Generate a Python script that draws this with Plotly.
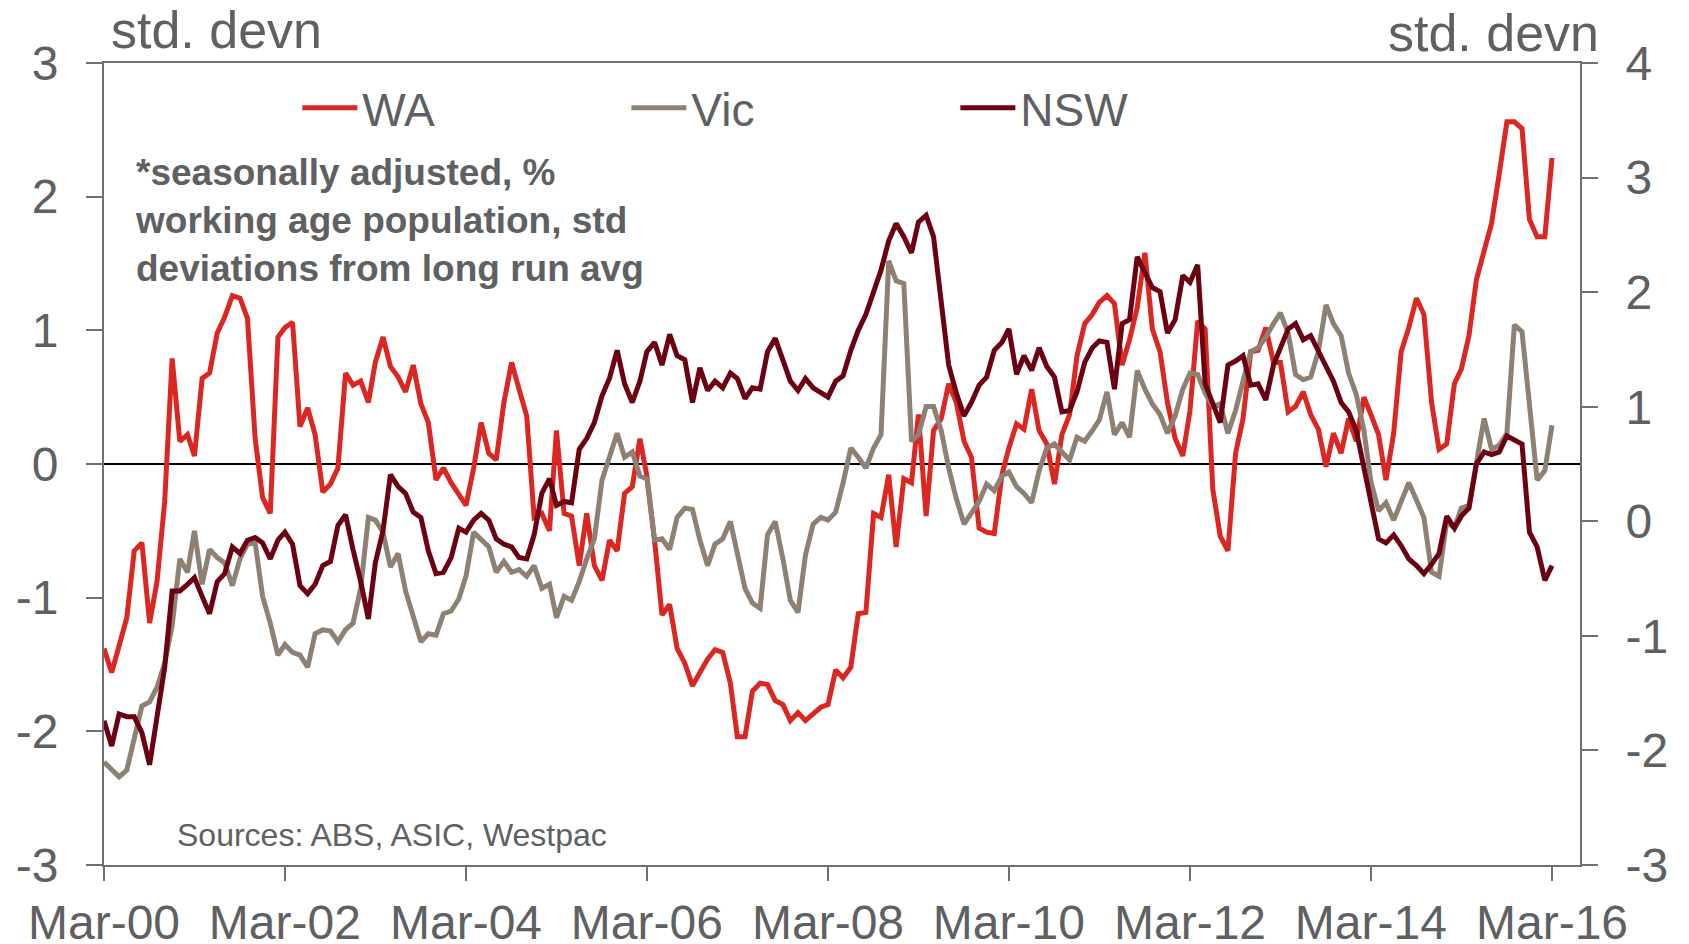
import pandas as pd
import plotly.graph_objects as go

# monthly, Mar-00 .. Mar-16, std deviations from long run avg
months = pd.date_range("2000-03-01", periods=193, freq="MS")

wa = [
    -1.38, -1.56, -1.36, -1.15, -0.65, -0.59, -1.19, -0.88, -0.28, 0.79, 0.17, 0.22, 0.06, 0.64, 0.68, 0.98, 1.10,
    1.26, 1.24, 1.09, 0.19, -0.25, -0.37, 0.95, 1.02, 1.06, 0.28, 0.42, 0.22, -0.21, -0.15, -0.03, 0.68, 0.59, 0.62,
    0.46, 0.76, 0.95, 0.73, 0.65, 0.54, 0.74, 0.45, 0.31, -0.12, -0.03, -0.14, -0.23, -0.31, -0.03, 0.31, 0.08, 0.03,
    0.46, 0.76, 0.56, 0.36, -0.40, -0.37, -0.50, 0.25, -0.37, -0.39, -0.76, -0.37, -0.76, -0.87, -0.57, -0.65,
    -0.22, -0.17, 0.19, -0.09, -0.57, -1.13, -1.05, -1.38, -1.49, -1.66, -1.56, -1.46, -1.39, -1.41, -1.64, -2.04,
    -2.04, -1.70, -1.64, -1.65, -1.77, -1.80, -1.92, -1.86, -1.92, -1.87, -1.82, -1.80, -1.54, -1.60, -1.52, -1.12,
    -1.11, -0.37, -0.40,
    -0.08, -0.62, -0.11, -0.14, 0.37, -0.39, 0.25, 0.34, 0.60, 0.46, 0.17, 0.05, -0.48, -0.51, -0.52, -0.08, 0.12,
    0.30, 0.26, 0.56, 0.25, 0.15, -0.15, 0.22, 0.37, 0.81, 1.05, 1.12, 1.21, 1.26, 1.20, 0.74, 0.93, 1.17,
    1.58, 1.01, 0.84, 0.46, 0.19, 0.06, 0.40, 1.07, 1.01, -0.19, -0.54, -0.65, 0.08, 0.34, 0.84, 0.85, 1.02, 0.76,
    0.76, 0.39, 0.43, 0.54, 0.37, 0.26, -0.02, 0.23,
    0.08, 0.34, 0.17, 0.50, 0.37, 0.22, -0.12, 0.23, 0.84, 1.02, 1.24, 1.12, 0.46, 0.11, 0.15, 0.60, 0.71, 0.96,
    1.38, 1.60, 1.80, 2.17, 2.56, 2.56, 2.51, 1.83, 1.70, 1.70, 2.29,
]

vic = [
    -2.23, -2.28, -2.34, -2.29, -2.05, -1.81, -1.78, -1.67, -1.49, -1.21, -0.71, -0.81, -0.50, -0.90, -0.64, -0.70,
    -0.74, -0.91, -0.71, -0.60, -0.59, -0.99, -1.19, -1.43, -1.35, -1.41, -1.43, -1.52, -1.27, -1.24, -1.25, -1.33,
    -1.24, -1.19, -0.93,
    -0.40, -0.42, -0.51, -0.77, -0.67, -0.95, -1.13, -1.33, -1.27, -1.28, -1.12, -1.10, -1.01, -0.84, -0.51, -0.57,
    -0.62, -0.81, -0.73, -0.81, -0.79, -0.84, -0.76, -0.93, -0.90, -1.15, -0.99, -1.02, -0.88, -0.71, -0.56, -0.12,
    0.05, 0.23,
    0.05, 0.09, -0.09, -0.11, -0.57, -0.56, -0.64, -0.40, -0.33, -0.34, -0.57, -0.76, -0.60, -0.56, -0.43, -0.68,
    -0.93, -1.04, -1.08, -0.53, -0.43, -0.71, -1.02, -1.11, -0.68, -0.45, -0.40, -0.42, -0.36, -0.14, 0.12, 0.05,
    -0.03, 0.12, 0.22,
    1.52, 1.37, 1.35, 0.17, 0.22, 0.43, 0.43, 0.25, -0.03, -0.26, -0.45, -0.37, -0.28, -0.15, -0.20, -0.09, -0.06,
    -0.17, -0.22, -0.29, -0.05, 0.12, 0.15, 0.09, 0.03, 0.20, 0.17, 0.25, 0.33, 0.54, 0.22, 0.31, 0.20, 0.70,
    0.56, 0.45, 0.37, 0.23, 0.36, 0.56, 0.68, 0.67, 0.53, 0.43, 0.45, 0.23, 0.40, 0.62, 0.84, 0.87, 0.95, 1.05,
    1.13, 0.98, 0.67, 0.63, 0.65, 0.84, 1.19, 1.05,
    0.96, 0.68, 0.52, 0.25, -0.13, -0.35, -0.29, -0.42, -0.28, -0.14, -0.27, -0.40, -0.81, -0.84, -0.43, -0.48,
    -0.33, -0.31, 0.01, 0.34, 0.11, 0.14, 0.23, 1.04, 0.99, 0.43, -0.12, -0.05, 0.29,
]

nsw = [
    -1.92, -2.11, -1.87, -1.89, -1.89, -2.01, -2.25, -1.89, -1.52, -0.95, -0.95, -0.90, -0.85, -0.99, -1.12, -0.88,
    -0.82, -0.62, -0.67, -0.57, -0.55, -0.59, -0.71, -0.57, -0.51, -0.60, -0.91, -0.97, -0.90, -0.76, -0.73, -0.46,
    -0.38, -0.64, -0.88,
    -1.16, -0.74, -0.50, -0.08, -0.17, -0.22, -0.36, -0.40, -0.65, -0.82, -0.81, -0.70, -0.48, -0.51, -0.42, -0.37,
    -0.42, -0.56, -0.60, -0.62, -0.70, -0.71, -0.53, -0.22, -0.11, -0.31, -0.28, -0.29, 0.11, 0.19, 0.31, 0.51,
    0.64, 0.85,
    0.60, 0.46, 0.62, 0.84, 0.91, 0.74, 0.97, 0.81, 0.78, 0.46, 0.72, 0.55, 0.62, 0.57, 0.68, 0.64, 0.49, 0.57,
    0.56, 0.84, 0.94, 0.79, 0.62, 0.55, 0.64, 0.57, 0.53, 0.50, 0.62, 0.66, 0.85, 1.00, 1.12, 1.28, 1.45,
    1.67, 1.80, 1.70, 1.58, 1.81, 1.86, 1.70, 1.18, 0.74, 0.53, 0.36, 0.46, 0.59, 0.65, 0.85, 0.91, 1.01, 0.67,
    0.81, 0.70, 0.87, 0.73, 0.65, 0.39, 0.40, 0.54, 0.76, 0.87, 0.92, 0.91, 0.56, 1.05, 1.08, 1.55,
    1.44, 1.32, 1.29, 0.98, 1.08, 1.41, 1.36, 1.49, 0.60, 0.46, 0.31, 0.74, 0.77, 0.81, 0.59, 0.60, 0.48, 0.74,
    0.88, 1.01, 1.05, 0.93, 0.96, 0.84, 0.74, 0.62,
    0.46, 0.39, 0.25, -0.03, -0.28, -0.56, -0.59, -0.53, -0.61, -0.71, -0.76, -0.82, -0.75, -0.67, -0.39, -0.48,
    -0.39, -0.33, 0.00, 0.09, 0.07, 0.09, 0.21, 0.18, 0.15, -0.51, -0.62, -0.87, -0.76,
]

x_ticks = pd.date_range("2000-03-01", "2016-03-01", freq="24MS")
left_ticks = [-3, -2, -1, 0, 1, 2, 3]
right_ticks = [-3, -2, -1, 0, 1, 2, 3, 4]

FONT = "Liberation Sans, Arial, sans-serif"
TXT = "#5f6062"
AXIS = "#6e6f71"

fig = go.Figure()
for name, vals, color in [("WA", wa, "#dc2622"), ("Vic", vic, "#8e8073"), ("NSW", nsw, "#6c0010")]:
    fig.add_trace(go.Scatter(x=months, y=vals, mode="lines", name=name, line={"width": 5, "color": color}))

# empty trace so the right-hand scale gets drawn
fig.add_trace(go.Scatter(x=months[:1], y=[None], yaxis="y2", showlegend=False, hoverinfo="skip"))

axis_common = {
    "ticks": "outside",
    "tickwidth": 2,
    "tickcolor": AXIS,
    "showline": True,
    "linecolor": AXIS,
    "linewidth": 2,
    "showgrid": False,
    "automargin": False,
    "tickfont": {"size": 48, "color": TXT},
}

fig.update_layout(
    width=1689,
    height=944,
    margin={"l": 104, "r": 109, "t": 63, "b": 79},
    plot_bgcolor="white",
    paper_bgcolor="white",
    font={"family": FONT, "color": TXT},
    showlegend=True,
    legend={
        "orientation": "h",
        "x": 0.131,
        "y": 0.944,
        "xanchor": "left",
        "yanchor": "middle",
        "font": {"size": 46, "color": TXT},
        "itemwidth": 55,
        "entrywidth": 259,
        "entrywidthmode": "pixels",
        "bgcolor": "rgba(0,0,0,0)",
    },
    xaxis={
        **axis_common,
        "type": "date",
        "range": ["2000-03-01", "2016-06-22"],
        "tickvals": x_ticks,
        "tickformat": "%b-%y",
        "ticklen": 14,
        "mirror": True,
        "zeroline": False,
    },
    yaxis={
        **axis_common,
        "range": [-3, 3],
        "tickvals": left_ticks,
        "ticktext": [str(v) for v in left_ticks],
        "ticklen": 16,
        "zeroline": True,
        "zerolinecolor": "black",
        "zerolinewidth": 1.5,
        "ticklabelstandoff": 18,
    },
    yaxis2={
        **axis_common,
        "range": [-3, 4],
        "tickvals": right_ticks,
        "ticktext": [str(v) for v in right_ticks],
        "overlaying": "y",
        "side": "right",
        "ticklen": 16,
        "zeroline": False,
        "ticklabelstandoff": 18,
    },
)

fig.add_annotation(text="std. devn", xref="paper", yref="paper", x=0.0037, y=1.041,
                   xanchor="left", yanchor="middle", showarrow=False, font={"size": 52, "color": TXT})
fig.add_annotation(text="std. devn", xref="paper", yref="paper", x=1.014, y=1.037,
                   xanchor="right", yanchor="middle", showarrow=False, font={"size": 52, "color": TXT})
fig.add_annotation(
    text="<b>*seasonally adjusted, %<br>working age population, std<br>deviations from long run avg</b>",
    xref="paper", yref="paper", x=0.0197, y=0.803, xanchor="left", yanchor="middle", align="left",
    showarrow=False, font={"size": 37, "color": TXT},
)
fig.add_annotation(text="Sources: ABS, ASIC, Westpac", xref="paper", yref="paper", x=0.0484, y=0.0374,
                   xanchor="left", yanchor="middle", showarrow=False, font={"size": 32, "color": TXT})

fig.write_html("out.html", config={"displayModeBar": False}, post_script="document.body.style.margin='0';")
